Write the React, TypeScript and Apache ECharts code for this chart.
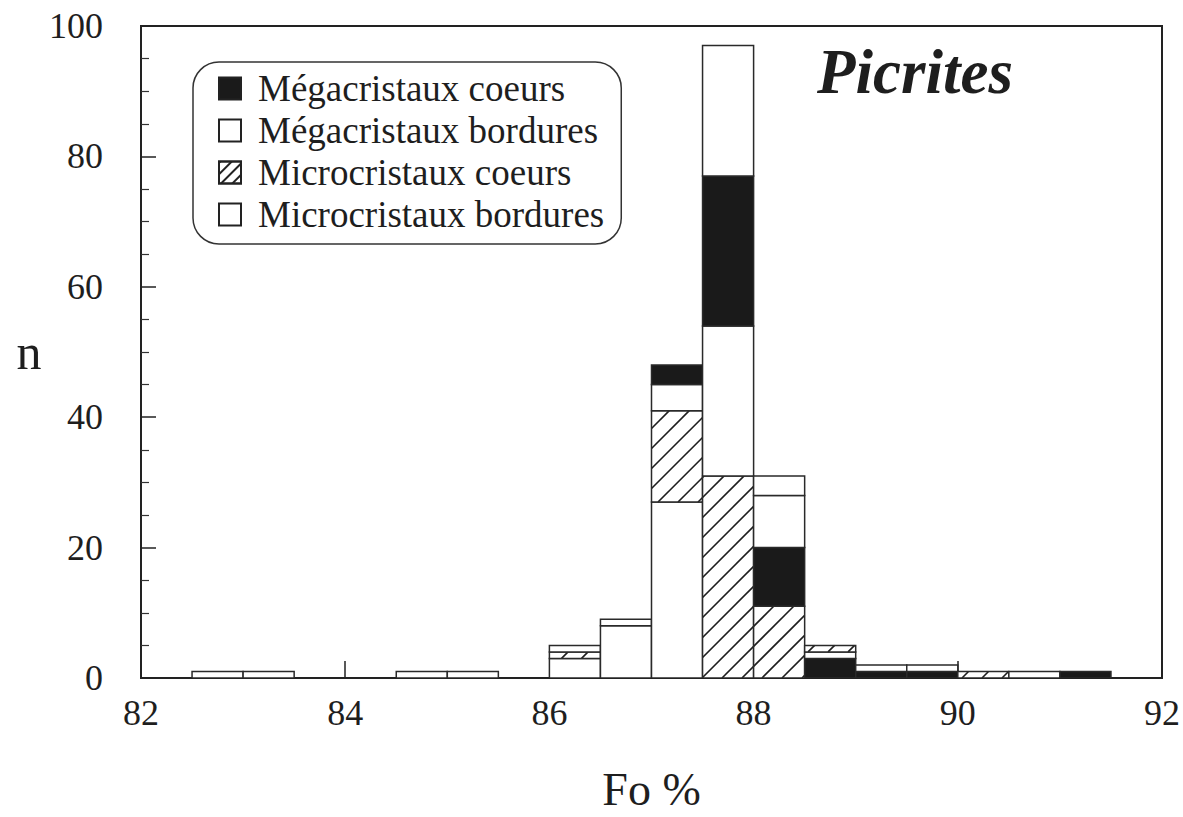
import React, { useEffect, useRef } from "react";
import * as echarts from "echarts";

// Bin starts (Fo %), bin width 0.5
const binStarts = [82, 82.5, 83, 83.5, 84, 84.5, 85, 85.5, 86, 86.5, 87, 87.5, 88, 88.5, 89, 89.5, 90, 90.5, 91, 91.5];
const binWidth = 0.5;

const categories = [
  "Mégacristaux coeurs",
  "Mégacristaux bordures",
  "Microcristaux coeurs",
  "Microcristaux bordures",
];

// counts per bin for each category
const megaCoeurs = [0, 0, 0, 0, 0, 0, 0, 0, 0, 0, 3, 23, 9, 3, 1, 1, 0, 0, 1, 0];
const megaBordures = [0, 0, 0, 0, 0, 0, 0, 0, 1, 1, 4, 23, 8, 1, 1, 1, 0, 0, 0, 0];
const microCoeurs = [0, 0, 0, 0, 0, 0, 0, 0, 1, 0, 14, 31, 11, 1, 0, 0, 1, 0, 0, 0];
const microBordures = [0, 1, 1, 0, 0, 1, 1, 0, 3, 8, 27, 20, 3, 0, 0, 0, 0, 1, 0, 0];

// stacking order (bottom to top) of the category indices in each bin
const stackOrders = [
  [3, 2, 1, 0], [3, 2, 1, 0], [3, 2, 1, 0], [3, 2, 1, 0], [3, 2, 1, 0],
  [3, 2, 1, 0], [3, 2, 1, 0], [3, 2, 1, 0], [3, 2, 1, 0], [3, 2, 1, 0],
  [3, 2, 1, 0], [2, 1, 0, 3], [2, 0, 1, 3], [0, 1, 2, 3], [0, 1, 2, 3],
  [0, 1, 2, 3], [3, 2, 1, 0], [3, 2, 1, 0], [3, 2, 1, 0], [3, 2, 1, 0],
];

const xTicks = { min: 82, max: 92, interval: 2 };
const yTicks = { min: 0, max: 100, interval: 20 };

const FONT = "'Liberation Serif', 'DejaVu Serif', serif";
const INK = "#1e1e1e";

export default function App() {
  const ref = useRef<HTMLDivElement>(null);

  useEffect(() => {
    if (!ref.current) return;
    const chart = echarts.init(ref.current, undefined, { renderer: "svg" });

    const values = [megaCoeurs, megaBordures, microCoeurs, microBordures];
    const segments: number[][] = [];
    binStarts.forEach((x0, i) => {
      let base = 0;
      stackOrders[i].forEach((cat) => {
        const v = values[cat][i];
        if (v > 0) {
          segments.push([x0, x0 + binWidth, base, base + v, cat]);
          base += v;
        }
      });
    });

    const renderItem = (_params: any, api: any) => {
      const x0 = api.value(0);
      const x1 = api.value(1);
      const y0 = api.value(2);
      const y1 = api.value(3);
      const cat = api.value(4);
      const tl = api.coord([x0, y1]);
      const br = api.coord([x1, y0]);
      const rx = tl[0];
      const ry = tl[1];
      const rw = br[0] - tl[0];
      const rh = br[1] - tl[1];
      const children: any[] = [
        {
          type: "rect",
          shape: { x: rx, y: ry, width: rw, height: rh },
          style: { fill: cat === 0 ? "#1a1a1a" : "#ffffff", stroke: "none" },
        },
      ];
      if (cat === 2) {
        const step = 20;
        const cStart = Math.ceil((rx + ry) / step) * step;
        for (let c = cStart; c <= rx + rw + ry + rh; c += step) {
          const xa = Math.max(rx, c - (ry + rh));
          const xb = Math.min(rx + rw, c - ry);
          if (xb - xa > 1) {
            children.push({
              type: "line",
              shape: { x1: xa, y1: c - xa, x2: xb, y2: c - xb },
              style: { stroke: INK, lineWidth: 1.6 },
            });
          }
        }
      }
      children.push({
        type: "rect",
        shape: { x: rx, y: ry, width: rw, height: rh },
        style: { fill: "none", stroke: "#2a2a2a", lineWidth: 1.5 },
      });
      return { type: "group", children };
    };

    const option: any = {
      animation: false,
      backgroundColor: "#ffffff",
      title: {
        text: "Picrites",
        left: 812,
        top: 35,
        textStyle: {
          fontFamily: FONT,
          fontStyle: "italic",
          fontWeight: "bold",
          fontSize: 63,
          color: INK,
        },
      },
      legend: {
        data: categories,
        orient: "vertical",
        left: 193,
        top: 62,
        padding: [8, 17, 11, 25],
        borderColor: "#333",
        borderWidth: 1.5,
        borderRadius: 26,
        itemWidth: 22,
        itemHeight: 22,
        itemGap: 5,
        icon: "rect",
        selectedMode: false,
        textStyle: {
          fontFamily: FONT,
          fontSize: 37,
          lineHeight: 34,
          color: INK,
          padding: [0, 0, 0, 12],
        },
      },
      grid: {
        left: 141,
        right: 19,
        top: 26,
        bottom: 118,
        show: true,
        borderColor: "#222",
        borderWidth: 2,
        backgroundColor: "transparent",
      },
      xAxis: {
        type: "value",
        min: xTicks.min,
        max: xTicks.max,
        interval: xTicks.interval,
        name: "Fo %",
        nameLocation: "middle",
        nameGap: 111,
        nameTextStyle: {
          fontFamily: FONT,
          fontSize: 46,
          color: INK,
          verticalAlign: "middle",
        },
        axisLine: { show: true, lineStyle: { color: "#222", width: 2 } },
        axisTick: { show: true, inside: true, length: 17, lineStyle: { color: "#222", width: 1.5 } },
        splitLine: { show: false },
        axisLabel: { fontFamily: FONT, fontSize: 36, color: INK, margin: 17 },
      },
      yAxis: {
        type: "value",
        min: yTicks.min,
        max: yTicks.max,
        interval: yTicks.interval,
        name: "n",
        nameLocation: "middle",
        nameRotate: 0,
        nameGap: 112,
        nameTextStyle: {
          fontFamily: FONT,
          fontSize: 50,
          color: INK,
          align: "center",
          verticalAlign: "middle",
        },
        axisLine: { show: true, lineStyle: { color: "#222", width: 2 } },
        axisTick: { show: true, inside: true, length: 15, lineStyle: { color: "#222", width: 1.5 } },
        minorTick: { show: true, splitNumber: 4, length: 8, lineStyle: { color: "#333", width: 1.2 } },
        splitLine: { show: false },
        minorSplitLine: { show: false },
        axisLabel: { fontFamily: FONT, fontSize: 36, color: INK, margin: 38 },
      },
      series: [
        {
          name: "hist",
          type: "custom",
          renderItem,
          clip: true,
          encode: { x: [0, 1], y: [2, 3] },
          data: segments,
          z: 2,
        },
        {
          name: categories[0],
          type: "bar",
          data: [],
          itemStyle: { color: "#1a1a1a", borderColor: "#222", borderWidth: 1.5 },
        },
        {
          name: categories[1],
          type: "bar",
          data: [],
          itemStyle: { color: "#ffffff", borderColor: "#222", borderWidth: 1.5 },
        },
        {
          name: categories[2],
          type: "bar",
          data: [],
          itemStyle: {
            color: "#ffffff",
            borderColor: "#222",
            borderWidth: 1.5,
            decal: {
              color: "#222",
              backgroundColor: "#ffffff",
              symbol: "rect",
              symbolSize: 1,
              dashArrayX: [1, 0],
              dashArrayY: [2, 6],
              rotation: -Math.PI / 4,
            },
          },
        },
        {
          name: categories[3],
          type: "bar",
          data: [],
          itemStyle: { color: "#ffffff", borderColor: "#222", borderWidth: 1.5 },
        },
      ],
    };

    chart.setOption(option);
    return () => {
      chart.dispose();
    };
  }, []);

  return (
    <div
      ref={ref}
      style={{ position: "fixed", left: 0, top: 0, width: 1183, height: 817, background: "#fff" }}
    />
  );
}
